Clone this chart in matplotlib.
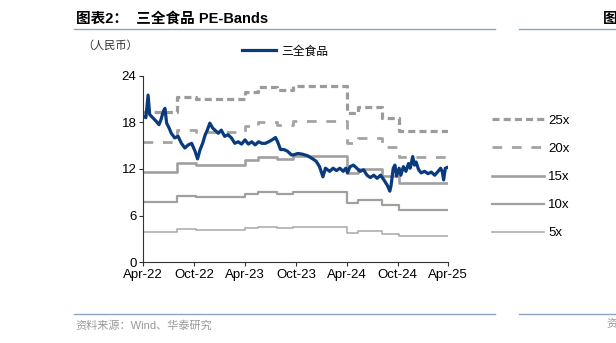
import numpy as np
import pandas as pd
import matplotlib
matplotlib.use("Agg")
import matplotlib.pyplot as plt
import matplotlib.dates as mdates
from matplotlib.lines import Line2D

plt.rcParams['font.family'] = ['Liberation Sans', 'Noto Sans CJK SC', 'DejaVu Sans']

START = pd.Timestamp('2022-04-01')

# closing price: months after Apr-22, price in CNY
price_month = [
    0.0, 0.3, 0.56, 0.75, 1.15, 1.55, 1.85, 2.1, 2.35, 2.55,
    2.75, 3.05, 3.3, 3.7, 4.1, 4.5, 4.9, 5.3, 5.7, 6.1,
    6.4, 6.7, 7.0, 7.3, 7.55, 7.85, 8.2, 8.45, 8.85, 9.2,
    9.6, 10.0, 10.4, 10.8, 11.2, 11.6, 12.0, 12.4, 12.8, 13.2,
    13.6, 14.0, 14.4, 14.8, 15.2, 15.6, 15.85, 16.2, 16.6, 17.0,
    17.5, 17.67, 18.25, 18.8, 19.4, 20.0, 20.4, 20.8, 21.2, 21.5,
    22.0, 22.4, 22.8, 23.2, 23.6, 23.9, 24.1, 24.4, 24.8, 25.2,
    25.6, 26.0, 26.4, 26.8, 27.2, 27.6, 28.0, 28.4, 28.8, 29.1,
    29.25, 29.5, 29.7, 29.9, 30.2, 30.4, 30.7, 31.0, 31.3, 31.5,
    31.8, 32.0, 32.2, 32.5, 32.8, 33.2, 33.6, 34.0, 34.4, 34.8,
    35.1, 35.3, 35.45, 35.65, 35.9,
]
price = [
    18.8, 18.6, 21.5, 19.0, 18.55, 18.1, 17.7, 18.4, 19.4, 19.8,
    17.9, 17.25, 16.6, 16.0, 16.2, 15.3, 14.7, 15.1, 15.3, 14.3,
    13.3, 14.5, 15.3, 16.4, 17.0, 17.9, 17.25, 17.0, 16.6, 17.0,
    16.2, 16.4, 16.0, 15.3, 15.5, 15.2, 15.75, 15.2, 15.5, 15.1,
    15.5, 15.3, 15.3, 15.5, 15.75, 16.05, 15.5, 14.5, 14.5, 14.3,
    13.8, 13.8, 14.0, 13.9, 13.7, 13.3, 13.0, 12.3, 11.0, 12.1,
    11.7, 12.1, 11.8, 12.1, 11.7, 12.1, 11.5, 12.3, 12.5, 12.1,
    11.7, 11.9, 11.2, 10.9, 11.2, 10.8, 11.2, 10.6, 9.9, 9.15,
    9.9, 12.1, 12.5, 11.1, 12.1, 11.2, 12.3, 11.7, 12.7, 12.1,
    13.6, 12.5, 12.9, 11.9, 11.5, 11.7, 11.4, 11.6, 11.2, 11.7,
    12.1, 11.6, 10.6, 12.1, 12.2,
]

# trailing EPS steps behind the bands
eps_dates = ['2022-04-01', '2022-08-01', '2022-10-08', '2023-04-01', '2023-05-19',
             '2023-07-24', '2023-09-22', '2024-04-01', '2024-05-13', '2024-08-04',
             '2024-10-04', '2025-04-01']
eps = [0.774, 0.852, 0.838, 0.874, 0.900, 0.884, 0.908, 0.766, 0.800, 0.740, 0.676, 0.676]

multiples = [25, 20, 15, 10, 5]
band_labels = ['25x', '20x', '15x', '10x', '5x']
band_styles = [
    dict(color='#9b9b9b', lw=2.3, dashes=(2.2, 1.3)),
    dict(color='#a3a3a3', lw=2.0, dashes=(3.5, 3.5)),
    dict(color='#a0a0a0', lw=1.9),
    dict(color='#a0a0a0', lw=1.6),
    dict(color='#a8a8a8', lw=1.1),
]

fig = plt.figure(figsize=(6.16, 3.43), dpi=100)
ax = fig.add_axes([0.2327, 0.2353, 0.4951, 0.544])

ed = pd.to_datetime(eps_dates)
for m, st in zip(multiples, band_styles):
    ax.step(ed, np.array(eps) * m, where='post', solid_capstyle='butt', **st)

px = START + pd.to_timedelta(np.array(price_month) * 30.44, unit='D')
ax.plot(px, price, color='#0a3a7e', lw=2.3, solid_joinstyle='round')

ax.set_xlim(START, pd.Timestamp('2025-04-01'))
ax.set_ylim(0, 24)
ax.set_yticks([0, 6, 12, 18, 24])
ax.set_xticks(pd.date_range('2022-04-01', '2025-04-01', freq='6MS'))
ax.xaxis.set_major_formatter(mdates.DateFormatter('%b-%y'))
ax.tick_params(labelsize=9.5, length=3, width=0.8, color='#333333', pad=2)
for s in ['top', 'right']:
    ax.spines[s].set_visible(False)
for s in ['left', 'bottom']:
    ax.spines[s].set_linewidth(0.8)
    ax.spines[s].set_color('#333333')

# legends
fig.legend([Line2D([], [], color='#0a3a7e', lw=2.3)], ['三全食品'],
           loc='center left', bbox_to_anchor=(0.375, 0.85), frameon=False,
           handlelength=2.9, handletextpad=0.45, fontsize=8.5)
handles = [Line2D([], [], **st) for st in band_styles]
fig.legend(handles, band_labels, loc='upper left', bbox_to_anchor=(0.78, 0.70),
           frameon=False, handlelength=3.9, handletextpad=0.35, fontsize=9.5,
           labelspacing=1.2)

# header / footer
fig.text(0.123, 0.945, '图表2：  三全食品 PE-Bands', fontsize=10.5, fontweight='bold',
         va='center', ha='left')
fig.text(0.978, 0.945, '图', fontsize=10.5, fontweight='bold', va='center', ha='left')
fig.text(0.133, 0.866, '（人民币）', fontsize=8, va='center', ha='left', color='#333333')
rule = '#8ea6c4'
for y in [0.914, 0.086]:
    fig.add_artist(Line2D([0.12, 0.804], [y, y], color=rule, lw=1.0))
    fig.add_artist(Line2D([0.843, 1.0], [y, y], color=rule, lw=1.0))
fig.text(0.123, 0.052, '资料来源：Wind、华泰研究', fontsize=8, va='center', ha='left',
         color='#999999')
fig.text(0.985, 0.052, '资', fontsize=8, va='center', ha='left', color='#999999')

fig.savefig('out.png', dpi=100)
